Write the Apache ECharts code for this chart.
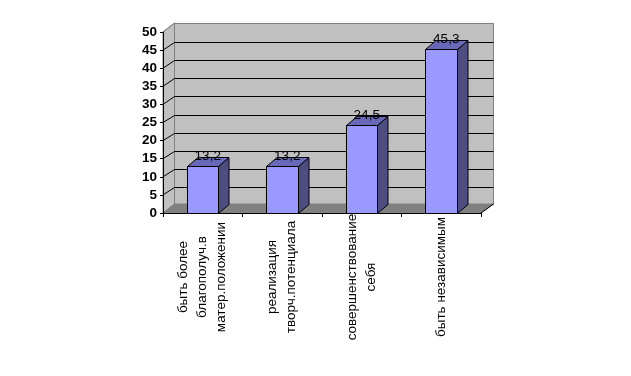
<!DOCTYPE html>
<html>
<head>
<meta charset="utf-8">
<style>
  html, body { margin: 0; padding: 0; background: #fff; }
  #main { width: 631px; height: 376px; }
</style>
</head>
<body>
<div id="main"></div>
<script src="https://cdn.jsdelivr.net/npm/echarts@6/dist/echarts.min.js"></script>
<script>
var categories = [
  'быть более\nблагополуч.в\nматер.положении',
  'реализация\nтворч.потенциала',
  'совершенствование\nсебя',
  'быть независимым'
]
var values = [13.2, 13.2, 24.5, 45.3]
var valueLabels = ['13,2', '13,2', '24,5', '45,3']
var gridTicks = [5, 10, 15, 20, 25, 30, 35, 40, 45, 50]

// 3d offset of the back wall
var depthX = 10.5
var depthY = 9

var myChart = echarts.init(document.getElementById('main'))

// keep 1px lines on whole pixels
function crisp(v) {
  return Math.round(v) + 0.5
}

// back wall, side wall, floor and grid lines
function renderWall(params, api) {
  var c = params.coordSys
  var l = c.x, r = c.x + c.width, t = c.y, b = c.y + c.height
  var backL = crisp(l + depthX), backR = crisp(r + depthX + 1)
  var children = [
    { type: 'polygon', shape: { points: [[l, t], [backL, t - depthY], [backL, b - depthY], [l, b]] },
      style: { fill: '#c0c0c0', stroke: '#808080', lineWidth: 1 } },
    { type: 'rect', shape: { x: backL, y: crisp(t - depthY), width: backR - backL, height: c.height },
      style: { fill: '#c0c0c0', stroke: '#808080', lineWidth: 1 } },
    { type: 'polygon', shape: { points: [[l, b], [backL, b - depthY], [backR, b - depthY], [r, b]] },
      style: { fill: '#808080', stroke: '#808080', lineWidth: 1 } }
  ]
  gridTicks.forEach(function (tick) {
    var y = api.coord([0, tick])[1]
    var isTop = tick === 50
    var backY = crisp(y - depthY + 1)
    children.push({
      type: 'polyline',
      shape: { points: isTop
        ? [[l, y], [backL, y - depthY]]
        : [[l, y], [backL, backY], [backR, backY]] },
      style: { fill: null, stroke: isTop ? '#808080' : '#000', lineWidth: 1 }
    })
  })
  children.push({
    type: 'polyline',
    shape: { points: [[r, b], [backR, b - depthY]] },
    style: { fill: null, stroke: '#000', lineWidth: 1 }
  })
  return { type: 'group', children: children }
}

function renderBar(params, api) {
  var p = api.coord([api.value(0), api.value(1)])
  var base = api.coord([api.value(0), 0])
  var w = api.size([1, 0])[0] * 0.4
  var x1 = crisp(p[0] - w / 2 - 0.3), x2 = crisp(p[0] + w / 2 - 0.3), top = crisp(p[1] + 0.4), bot = crisp(base[1])
  var line = { stroke: '#000', lineWidth: 1, lineJoin: 'miter' }
  return {
    type: 'group',
    children: [
      { type: 'polygon', shape: { points: [[x2, bot], [x2 + depthX, bot - depthY], [x2 + depthX, top - depthY], [x2, top]] },
        style: Object.assign({ fill: '#4d4d80' }, line) },
      { type: 'polygon', shape: { points: [[x1, top], [x1 + depthX, top - depthY], [x2 + depthX, top - depthY], [x2, top]] },
        style: Object.assign({ fill: '#6868b8' }, line) },
      { type: 'rect', shape: { x: x1, y: top, width: x2 - x1, height: bot - top },
        style: Object.assign({ fill: '#9999ff' }, line) },
      { type: 'text', x: p[0] + 5, y: top - depthY - 1,
        style: { text: valueLabels[params.dataIndex], fill: '#000', font: '13.5px "Liberation Sans"', align: 'center', verticalAlign: 'middle' } }
    ]
  }
}

var option = {
  animation: false,
  backgroundColor: '#fff',
  grid: { left: 163, right: 150, top: 32, height: 181 },
  xAxis: {
    type: 'category',
    data: categories,
    boundaryGap: true,
    axisTick: { show: true, alignWithLabel: false, length: 4, lineStyle: { color: '#000' } },
    axisLine: { lineStyle: { color: '#000', width: 1 } },
    axisLabel: {
      interval: 0,
      rotate: 90,
      align: 'center',
      verticalAlign: 'middle',
      margin: 64,
      lineHeight: 19,
      color: '#000',
      fontSize: 13.5,
      fontFamily: '"Liberation Sans"'
    }
  },
  yAxis: {
    type: 'value',
    min: 0,
    max: 50,
    interval: 5,
    splitLine: { show: false },
    axisLine: { show: true, lineStyle: { color: '#000', width: 1 } },
    axisTick: { show: true, length: 3, lineStyle: { color: '#000' } },
    axisLabel: {
      margin: 6,
      color: '#000',
      fontSize: 13.5,
      fontWeight: 'bold',
      fontFamily: '"Liberation Sans"'
    }
  },
  series: [
    {
      type: 'custom',
      z: -1,
      clip: false,
      silent: true,
      renderItem: renderWall,
      data: [[0, 0]]
    },
    {
      type: 'custom',
      z: 3,
      clip: false,
      renderItem: renderBar,
      data: values.map(function (v, i) { return [i, v] })
    }
  ]
}
option && myChart.setOption(option)
</script>
</body>
</html>
